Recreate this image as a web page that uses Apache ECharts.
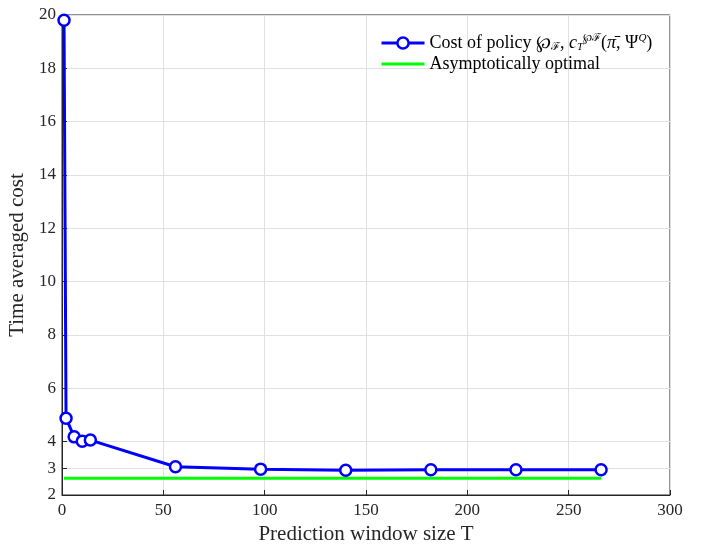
<!DOCTYPE html>
<html><head><meta charset="utf-8">
<script src="https://cdn.jsdelivr.net/npm/echarts@6/dist/echarts.min.js"></script>
<style>html,body{margin:0;padding:0;background:#fff}#c{width:702px;height:544px}</style>
</head><body><div id="c"></div>
<script>
const windowSizes = [1, 2, 6, 10, 14, 56, 98, 140, 182, 224, 266];
const policyCost = [19.8, 4.88, 4.18, 4.02, 4.06, 3.06, 2.97, 2.93, 2.95, 2.95, 2.95];
const optimalX = [1, 266];
const optimalCost = [2.63, 2.63];
const xTicks = [0, 50, 100, 150, 200, 250, 300];
const yTicks = [2, 3, 4, 6, 8, 10, 12, 14, 16, 18, 20];

const font = 'Liberation Serif';
const chart = echarts.init(document.getElementById('c'), null, {renderer: 'canvas'});
chart.setOption({
  animation: false,
  backgroundColor: '#fff',
  textStyle: {fontFamily: font},
  grid: {left: 62, right: 32, top: 15, bottom: 49, outerBoundsMode: 'none', containLabel: false,
         show: true, borderColor: '#262626', borderWidth: 1, backgroundColor: 'transparent'},
  legend: {
    left: 375, top: 28, orient: 'vertical', itemGap: 2, itemWidth: 43, itemHeight: 14,
    lineStyle: {width: 3},
    textStyle: {fontFamily: font, fontSize: 18, color: '#000',
      rich: {
        sub: {fontFamily: font, fontSize: 11, verticalAlign: 'bottom', color: '#000', padding: [7,0,0,0]},
        isub: {fontFamily: font, fontSize: 11, fontStyle: 'italic', verticalAlign: 'bottom', color: '#000', padding: [7,0,0,0]},
        sup: {fontFamily: font, fontSize: 11, verticalAlign: 'top', color: '#000', padding: [0,0,9,0]},
        isup: {fontFamily: font, fontSize: 11, fontStyle: 'italic', verticalAlign: 'top', color: '#000', padding: [0,0,9,0]},
        n: {fontFamily: font, fontSize: 18, color: '#000'},
        i: {fontFamily: font, fontSize: 18, fontStyle: 'italic', color: '#000'}
      }},
    formatter: function (name) {
      if (name === 'cost') return '{n|Cost of policy ℘}{sub|ℱ}{n|, }{i|c}{isub|T}{sup|℘ℱ}{n|(}{i|π̄}{n|, Ψ}{isup|Q}{n|)}';
      return '{n|Asymptotically optimal}';
    },
    data: [{name: 'cost', itemStyle: {borderWidth: 2.5}}, {name: 'opt', itemStyle: {opacity: 0}}]
  },
  xAxis: {
    type: 'value', min: 0, max: 300, interval: 50,
    name: 'Prediction window size T', nameLocation: 'middle', nameGap: 28,
    nameTextStyle: {fontFamily: font, fontSize: 21, color: '#262626'},
    axisLine: {onZero: false, lineStyle: {color: '#262626'}},
    axisTick: {inside: true, length: 5, lineStyle: {color: '#262626'}},
    axisLabel: {fontFamily: font, fontSize: 17, color: '#262626', margin: 7, customValues: xTicks},
    splitLine: {show: true, lineStyle: {color: '#e0e0e0'}}
  },
  yAxis: {
    type: 'value', min: 2, max: 20, interval: 1,
    name: 'Time averaged cost', nameLocation: 'middle', nameGap: 30,
    nameTextStyle: {fontFamily: font, fontSize: 21, color: '#262626'},
    axisLine: {show: true, onZero: false, lineStyle: {color: '#262626'}},
    axisTick: {show: true, inside: true, length: 5, customValues: yTicks, lineStyle: {color: '#262626'}},
    axisLabel: {fontFamily: font, fontSize: 17, color: '#262626', margin: 6, customValues: yTicks},
    splitLine: {show: true, lineStyle: {color: '#e0e0e0'}}
  },
  series: [
    {name: 'cost', type: 'line', data: windowSizes.map((x, i) => [x, policyCost[i]]),
     lineStyle: {color: '#0000ff', width: 3}, itemStyle: {color: '#fff', borderColor: '#0000ff', borderWidth: 2.5},
     symbol: 'circle', symbolSize: 11, showAllSymbol: true, z: 3},
    {name: 'opt', type: 'line', data: optimalX.map((x, i) => [x, optimalCost[i]]),
     lineStyle: {color: '#00ff00', width: 3}, itemStyle: {color: '#00ff00'}, symbol: 'none', z: 2}
  ]
});
</script></body></html>
